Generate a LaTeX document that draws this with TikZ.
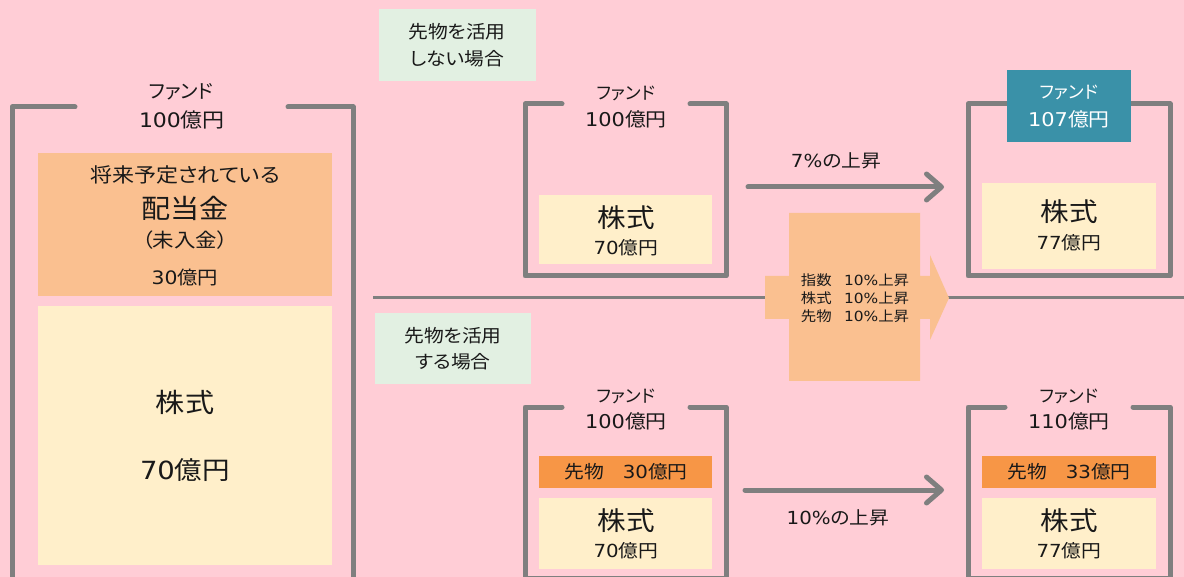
\documentclass[tikz,border=0pt]{standalone}
\usepackage{fontspec}
\setmainfont{Noto Sans CJK JP}[RawFeature=+palt]
\newfontfamily\dejavu{DejaVu Sans}
\usetikzlibrary{arrows.meta}
\definecolor{bgpink}{HTML}{FFCDD6}
\definecolor{framegray}{HTML}{7F7F7F}
\definecolor{lightorange}{HTML}{FAC090}
\definecolor{darkorange}{HTML}{F79646}
\definecolor{paleyellow}{HTML}{FFEFCA}
\definecolor{palegreen}{HTML}{E2F0E2}
\definecolor{tealbox}{HTML}{3A91A8}
\newcommand\myfs[1]{\fontsize{#1}{#1}\selectfont}
\newcommand\myfsb[2]{\fontsize{#1}{#2}\selectfont}
\newcommand\dg[1]{{\dejavu #1}}
\newcommand\hx[1]{\scalebox{1.1}[1]{#1}}
\tikzset{
  frame/.style={draw=framegray, line width=5pt, line join=round, line cap=round},
  divider/.style={draw=framegray, line width=3pt},
  growth/.style={draw=framegray, line width=5pt, line cap=round,
    -{Straight Barb[round, length=15pt, width=26pt]}},
  fillbox/.style={inner sep=0pt, outer sep=0pt, text depth=0pt},
  ybox/.style={fillbox, fill=paleyellow},
  obox/.style={fillbox, fill=lightorange},
  dobox/.style={fillbox, fill=darkorange},
  gbox/.style={fillbox, fill=palegreen},
  tbox/.style={fillbox, fill=tealbox},
  txt/.style={inner sep=0pt, text=black!90},
}
\begin{document}
\begin{tikzpicture}[x=1pt,y=-1pt]
\fill[bgpink] (0,0) rectangle (1184,577);
\useasboundingbox (0,0) rectangle (1184,577);
\clip (0,0) rectangle (1184,577);

% ---------- left big fund ----------
\draw[frame] (75,107) -- (12,107) -- (12,600);
\draw[frame] (288,107) -- (353,107) -- (353,600);
\node[txt, font=\myfs{19.5}] (lf1) at (181,92) {ファンド};
\node[txt, font=\myfs{20}] (lf2) at (182,120) {\hx{\dg{100}億円}};
\node[obox, minimum width=294pt, minimum height=143pt] (divbox) at (185,224.5) {};
\node[txt, font=\myfs{20}] (div1) at (185,175) {\hx{将来予定されている}};
\node[txt, font=\myfs{26.5}] (div2) at (185,208) {\hx{配当金}};
\node[txt, font=\myfs{19.5}] (div3) at (185,240) {\hx{（未入金）}};
\node[txt, font=\myfs{18.5}] (div4) at (185,278) {\hx{\dg{30}億円}};
\node[ybox, minimum width=294pt, minimum height=259pt] (stbox) at (185,435.5) {};
\node[txt, font=\myfs{26.5}] (st1) at (185,402) {\hx{株式}};
\node[txt, font=\myfs{25}] (st2) at (185,470) {\hx{\dg{70}億円}};

% ---------- divider ----------
\coordinate (divL) at (373,298);
\coordinate (divR) at (1184,298);
\draw[divider] (divL) -- (divR);

% ---------- scenario labels ----------
\node[gbox, minimum width=157pt, minimum height=72pt] (gtop) at (457.5,45) {};
\node[txt, font=\myfs{18}] (gt1) at (457,32) {\hx{先物を活用}};
\node[txt, font=\myfs{18}] (gt2) at (457,59) {\hx{しない場合}};
\node[gbox, minimum width=156pt, minimum height=71pt] (gbot) at (453,348.5) {};
\node[txt, font=\myfs{18}] (gb1) at (453,336) {\hx{先物を活用}};
\node[txt, font=\myfs{18}] (gb2) at (453,362) {\hx{する場合}};

% ---------- top middle fund ----------
\draw[frame] (562,104) -- (525,104) -- (525,276) -- (726,276) -- (726,104) -- (690,104);
\node[txt, font=\myfs{17.5}] (mt1) at (626,93) {ファンド};
\node[txt, font=\myfs{19}] (mt2) at (626,119) {\hx{\dg{100}億円}};
\node[ybox, minimum width=173pt, minimum height=69pt] (mtbox) at (625.5,229.5) {};
\node[txt, font=\myfs{26}] (mt3) at (626,218) {\hx{株式}};
\node[txt, font=\myfs{18}] (mt4) at (626,248) {\hx{\dg{70}億円}};

% ---------- top arrow ----------
\coordinate (ta1) at (748,187);
\coordinate (ta2) at (944,187);
\draw[growth] (ta1) -- (ta2);
\node[txt, font=\myfs{18}] (tal) at (836,161) {\hx{\dg{7\%}の上昇}};

% ---------- top right fund ----------
\draw[frame] (1007,104) -- (968,104) -- (968,276) -- (1170,276) -- (1170,104) -- (1131,104);
\node[tbox, minimum width=124pt, minimum height=72pt] (rtlab) at (1069,106) {};
\node[txt, font=\myfs{17.5}, text=white] (rt1) at (1069,92) {ファンド};
\node[txt, font=\myfs{19}, text=white] (rt2) at (1069,119) {\hx{\dg{107}億円}};
\node[ybox, minimum width=174pt, minimum height=86pt] (rtbox) at (1069,226) {};
\node[txt, font=\myfs{26}] (rt3) at (1069,212) {\hx{株式}};
\node[txt, font=\myfs{18}] (rt4) at (1069,243) {\hx{\dg{77}億円}};

% ---------- big central arrow ----------
\fill[lightorange] (789,213) -- (920,213) -- (920,276) -- (930,276) -- (930,255)
  -- (949,298) -- (930,340) -- (930,319) -- (920,319) -- (920,381) -- (789,381)
  -- (789,319) -- (765,319) -- (765,276) -- (789,276) -- cycle;
\node[txt, font=\myfsb{14}{18}, align=left] (bigtxt) at (855,298)
  {\hx{指数\hspace{0.8em}\dg{10\%}上昇}\\\hx{株式\hspace{0.8em}\dg{10\%}上昇}\\\hx{先物\hspace{0.8em}\dg{10\%}上昇}};

% ---------- bottom middle fund ----------
\draw[frame] (562,407) -- (525,407) -- (525,578) -- (726,578) -- (726,407) -- (690,407);
\node[txt, font=\myfs{17.5}] (mb1) at (626,396) {ファンド};
\node[txt, font=\myfs{19}] (mb2) at (626,421) {\hx{\dg{100}億円}};
\node[dobox, minimum width=173pt, minimum height=32pt] (mbfut) at (625.5,472) {};
\node[txt, font=\myfs{18}] (mb3) at (626,472) {\hx{先物\hspace{0.95em}\dg{30}億円}};
\node[ybox, minimum width=173pt, minimum height=71pt] (mbbox) at (625.5,533.5) {};
\node[txt, font=\myfs{26}] (mb4) at (626,521) {\hx{株式}};
\node[txt, font=\myfs{18}] (mb5) at (626,551) {\hx{\dg{70}億円}};

% ---------- bottom arrow ----------
\coordinate (ba1) at (745,490);
\coordinate (ba2) at (944,490);
\draw[growth] (ba1) -- (ba2);
\node[txt, font=\myfs{18}] (bal) at (838,518) {\hx{\dg{10\%}の上昇}};

% ---------- bottom right fund ----------
\draw[frame] (1005,407) -- (968,407) -- (968,578) -- (1170,578) -- (1170,407) -- (1133,407);
\node[txt, font=\myfs{17.5}] (rb1) at (1069,396) {ファンド};
\node[txt, font=\myfs{19}] (rb2) at (1069,421) {\hx{\dg{110}億円}};
\node[dobox, minimum width=174pt, minimum height=32pt] (rbfut) at (1069,472) {};
\node[txt, font=\myfs{18}] (rb3) at (1069,472) {\hx{先物\hspace{0.95em}\dg{33}億円}};
\node[ybox, minimum width=174pt, minimum height=71pt] (rbbox) at (1069,533.5) {};
\node[txt, font=\myfs{26}] (rb4) at (1069,521) {\hx{株式}};
\node[txt, font=\myfs{18}] (rb5) at (1069,551) {\hx{\dg{77}億円}};
\end{tikzpicture}
\end{document}
